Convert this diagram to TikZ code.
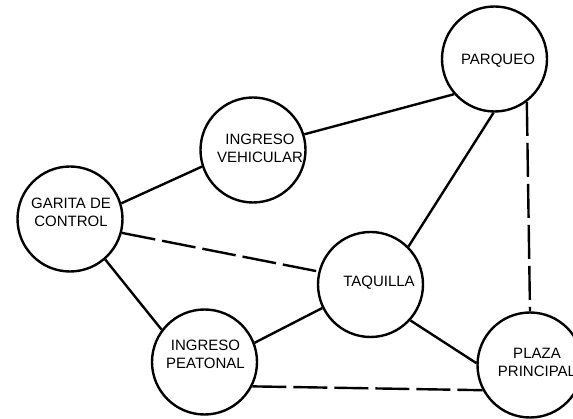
\documentclass[tikz,border=0pt]{standalone}
\usepackage{fontspec}
\setmainfont{Liberation Sans}
\begin{document}
\begin{tikzpicture}[x=1pt,y=-1pt,
  place/.style={circle,draw=black,line width=2.4pt,minimum size=105pt,inner sep=0pt,fill=white},
  lbl/.style={align=center,inner sep=0pt,font=\fontsize{15}{18}\selectfont},
  link/.style={line width=2.4pt,draw=black},
  dlink/.style={link,dash pattern=on 34pt off 7pt}]
\useasboundingbox (0,0) rectangle (573,419);
\clip (0,0) rectangle (573,419);
\fill[white] (0,0) rectangle (573,419);
\node[place] (garita) at (70,219) {};
\node[place] (vehic) at (253,150) {};
\node[place] (parqueo) at (494.5,59) {};
\node[place] (taquilla) at (370.5,284.5) {};
\node[place] (peatonal) at (204.5,362) {};
\node[place] (plaza) at (530,365) {};
\node[lbl] (tgarita) at (71,212.5) {GARITA DE\\CONTROL};
\node[lbl] (tvehic) at (260,148) {INGRESO\\VEHICULAR};
\node[lbl] (tparqueo) at (498,61) {PARQUEO};
\node[lbl] (ttaquilla) at (379,283) {TAQUILLA};
\node[lbl] (tpeatonal) at (205.5,354.5) {INGRESO\\PEATONAL};
\node[lbl] (tplaza) at (537,362) {PLAZA\\PRINCIPAL};
\draw[link] (vehic.17.5) -- (parqueo.221);
\draw[link] (garita.17.5) -- (vehic.198.6);
\draw[dlink] (garita.-15.5) -- (taquilla.166.5);
\draw[link] (garita.-49.7) -- (peatonal.143.9);
\draw[link] (parqueo.-91) -- (taquilla.45);
\draw[dlink] (parqueo.-53.5) -- (plaza.90);
\draw[link] (taquilla.206) -- (peatonal.21.3);
\draw[link] (taquilla.-42) -- (plaza.178);
\draw[dlink] (peatonal.-27) -- (plaza.-152);
\end{tikzpicture}
\end{document}
